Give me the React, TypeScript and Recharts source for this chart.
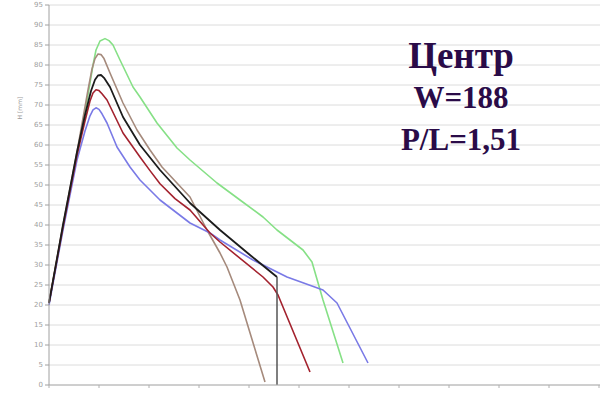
import React from "react";
import { LineChart, Line, XAxis, YAxis, CartesianGrid } from "recharts";

type P = { x: number; y: number };
const mk = (xs: number[], ys: number[]): P[] => xs.map((x, i) => ({ x, y: ys[i] }));

const greenX = [0, 14, 28, 39, 44, 47, 51, 56, 60, 64, 71, 84, 91, 108, 128, 141, 168, 191, 214, 228, 254, 263, 274, 294];
const greenY = [20.5, 39.25, 57.5, 72.5, 80, 83.75, 86, 86.6, 86.1, 85, 81.25, 74.5, 72, 65.5, 59.25, 56.25, 50.5, 46.25, 42, 38.75, 33.75, 30.75, 21.25, 5.5];

const brownX = [0, 14, 28, 39, 43, 46, 49, 52, 55, 61, 74, 88, 101, 113, 141, 158, 171, 178, 191, 216];
const brownY = [20.5, 40, 58.25, 73.75, 79, 81.6, 82.75, 82.6, 81.6, 78, 70.5, 63.75, 58.75, 54.5, 47, 38.75, 33, 29.5, 21.25, 0.75];

const blackX = [0, 14, 28, 36, 42, 46, 49, 52, 55, 61, 74, 91, 111, 141, 171, 201, 228];
const blackY = [20.5, 40, 58.25, 67.5, 73.5, 76.3, 77.4, 77.5, 76.8, 74.5, 67, 60, 53.75, 45.5, 38.75, 32.5, 27];

const dropX = [228, 228];
const dropY = [27, 0];

const redX = [0, 14, 28, 36, 41, 44, 47, 50, 53, 58, 74, 91, 101, 111, 126, 141, 161, 171, 214, 224, 229, 261];
const redY = [20.5, 39.5, 57.5, 66, 71, 73, 73.8, 73.6, 72.8, 71.25, 63, 57, 53.6, 50.3, 46.6, 43.75, 38, 35.75, 27, 24.5, 22.5, 3.25];

const blueX = [0, 14, 28, 36, 41, 44, 47, 50, 53, 58, 68, 81, 91, 111, 141, 161, 171, 204, 238, 274, 288, 319];
const blueY = [20, 38.75, 56.25, 63.5, 67.3, 68.8, 69.3, 68.9, 67.8, 65.5, 59.5, 54.5, 51.25, 46.25, 40.5, 38, 36.25, 31.25, 27, 23.75, 20.5, 5.5];

const yTicks = [0, 5, 10, 15, 20, 25, 30, 35, 40, 45, 50, 55, 60, 65, 70, 75, 80, 85, 90, 95];
const xTicks = [0, 50, 100, 150, 200, 250, 300, 350, 400, 450, 500, 550];

const titleLines = ["Центр", "W=188", "P/L=1,51"];
const yLabel = "H [mm]";

const series = [
  { name: "green", data: mk(greenX, greenY), color: "#86e086", w: 1.6 },
  { name: "brown", data: mk(brownX, brownY), color: "#a58a7c", w: 1.6 },
  { name: "blue", data: mk(blueX, blueY), color: "#7a7ae6", w: 1.6 },
  { name: "red", data: mk(redX, redY), color: "#a3222e", w: 1.6 },
  { name: "black", data: mk(blackX, blackY), color: "#1c1c1c", w: 1.8 },
  { name: "drop", data: mk(dropX, dropY), color: "#555555", w: 1.5 },
];

export default function App() {
  return (
    <div style={{ position: "absolute", left: 0, top: 0, width: 604, height: 394, background: "#fff" }}>
      <LineChart width={604} height={394} margin={{ top: 5, right: 4, bottom: 3, left: 0 }}>
        <CartesianGrid vertical={false} stroke="#dcdcdc" strokeWidth={1} />
        <XAxis
          type="number"
          dataKey="x"
          domain={[0, 551]}
          ticks={xTicks}
          tickFormatter={() => ""}
          height={6}
          tickSize={3}
          stroke="#b0b0b0"
          allowDuplicatedCategory={false}
        />
        <YAxis
          type="number"
          dataKey="y"
          domain={[0, 95]}
          ticks={yTicks}
          width={49}
          tickSize={4}
          stroke="#a0a0a0"
          tick={{ fontSize: 7, fill: "#a0a0a0", fontFamily: "DejaVu Sans" }}
          interval={0}
        />
        {series.map((s) => (
          <Line
            key={s.name}
            data={s.data}
            dataKey="y"
            type="linear"
            stroke={s.color}
            strokeWidth={s.w}
            strokeLinejoin="round"
            dot={false}
            isAnimationActive={false}
          />
        ))}
      </LineChart>
      <svg width={604} height={394} style={{ position: "absolute", left: 0, top: 0, pointerEvents: "none" }}>
        <text
          x={22}
          y={108}
          transform="rotate(-90 22 108)"
          textAnchor="middle"
          fontSize={6}
          fill="#9a9a9a"
          fontFamily="DejaVu Sans"
        >
          {yLabel}
        </text>
        <text x={461} y={68} textAnchor="middle" fontSize={37} fontWeight="bold" fontFamily="Liberation Serif" fill="#2a0b48">
          {titleLines[0]}
        </text>
        <text x={461} y={108} textAnchor="middle" fontSize={31} fontWeight="bold" fontFamily="Liberation Serif" fill="#2a0b48">
          {titleLines[1]}
        </text>
        <text x={461} y={150} textAnchor="middle" fontSize={31} fontWeight="bold" fontFamily="Liberation Serif" fill="#2a0b48">
          {titleLines[2]}
        </text>
      </svg>
    </div>
  );
}
